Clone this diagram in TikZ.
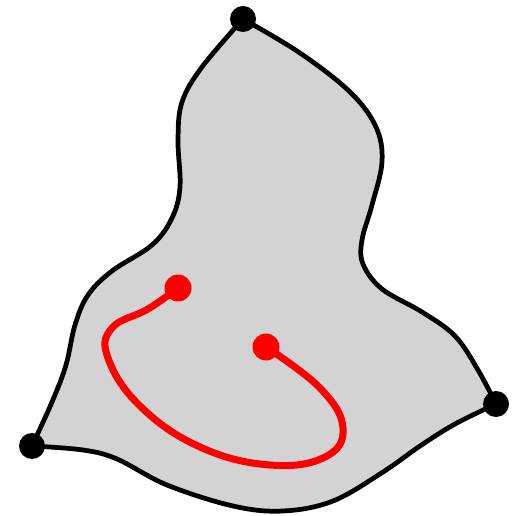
\documentclass[tikz,border=0pt]{standalone}
\usepackage{tikz}

\definecolor{regiongray}{RGB}{211,211,211}
\tikzset{
  boundary/.style={line width=2.7pt, line join=round},
  pathline/.style={line width=4pt, red, line cap=round},
  corner/.style={fill=black},
  endpt/.style={fill=red}
}

\begin{document}
\begin{tikzpicture}[x=0.02cm, y=-0.02cm]
  \useasboundingbox (0,0) rectangle (530,516);
  % Corner points
  \coordinate (top) at (243,19);
  \coordinate (right) at (496,404);
  \coordinate (left) at (32,446);
  % Region
  \draw[boundary, fill=regiongray] (top)
    plot[smooth, tension=0.6] coordinates {(top) (300,53) (350,92) (376,127) (382,162) (372,205) (362,240) (363,264) (382,289) (422,312) (455,336) (478,370) (right)}
    -- plot[smooth, tension=0.6] coordinates {(right) (455,424) (420,446) (383,472) (333,501) (283,511) (233,506) (167,485) (117,459) (83,450) (left)}
    -- plot[smooth, tension=0.6] coordinates {(left) (52,402) (66,365) (75,325) (88,295) (112,271) (152,245) (172,218) (180,187) (178,140) (182,102) (202,67) (top)}
    -- cycle;
  % Curve inside
  \coordinate (start) at (178,288);
  \coordinate (end) at (266,347);
  \draw[pathline] plot[smooth, tension=0.7] coordinates {(start) (148,309) (112,328) (108,358) (140,406) (200,447) (270,465) (325,457) (343,428) (320,388) (end)};
  % Dots
  \fill[corner] (top) circle (13);
  \fill[corner] (right) circle (13);
  \fill[corner] (left) circle (13);
  \fill[endpt] (start) circle (13.5);
  \fill[endpt] (end) circle (13.5);
\end{tikzpicture}
\end{document}
